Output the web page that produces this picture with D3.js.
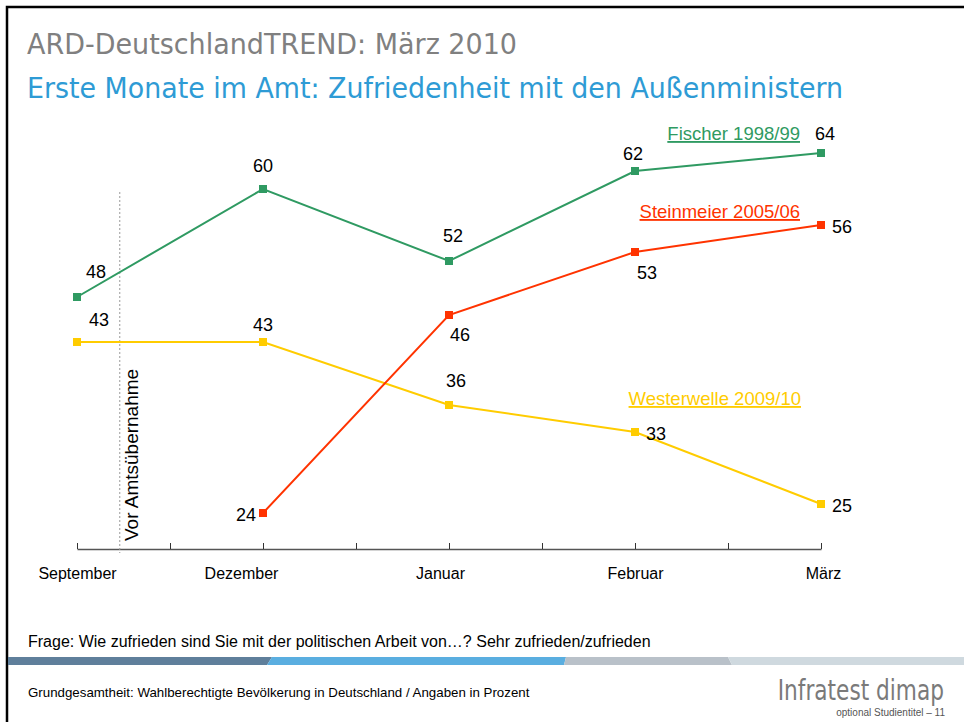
<!DOCTYPE html>
<html>
<head>
<meta charset="utf-8">
<script src="https://cdn.jsdelivr.net/npm/d3@7"></script>
<style>
  body { margin: 0; background: #fff; }
  svg { display: block; font-family: Arial, "Liberation Sans", sans-serif; }
</style>
</head>
<body>
<svg id="chart" width="964" height="722"></svg>
<script>
// --- data ---
const months = ['September', 'Dezember', 'Januar', 'Februar', 'März'];
const fischer = [48, 60, 52, 62, 64];
const steinmeier = [null, 24, 46, 53, 56];
const westerwelle = [43, 43, 36, 33, 25];
const seriesNames = ['Fischer 1998/99', 'Steinmeier 2005/06', 'Westerwelle 2009/10'];
const colors = ['#2f9a62', '#ff3300', '#ffcc00'];

// label offsets (dx, dy, anchor) relative to each point
const labelPos = [
  [[19, -19, 'middle'], [0, -17, 'middle'], [4, -19, 'middle'], [-2, -11, 'middle'], [4, -13, 'middle']],
  [null, [-7, 8, 'end'], [11, 26, 'middle'], [12, 27, 'middle'], [11, 8, 'start']],
  [[22, -16, 'middle'], [0, -11, 'middle'], [7, -18, 'middle'], [11, 8, 'start'], [11, 8, 'start']]
];
// month labels are not quite centred on their ticks in the original
const monthShift = [0, -22, -9, 0, 2];
const legendPos = [[800, 140], [800, 218], [801, 405]];

const svg = d3.select('#chart');

// slide frame
svg.append('path')
  .attr('d', 'M7,722 V7 H964')
  .attr('fill', 'none')
  .attr('stroke', '#000')
  .attr('stroke-width', 2.5);

svg.append('text')
  .attr('x', 27).attr('y', 54)
  .attr('fill', '#808080')
  .style('font-family', '"Liberation Sans Narrow", "DejaVu Sans Condensed", Arial')
  .style('font-size', '28px')
  .attr('textLength', 490).attr('lengthAdjust', 'spacingAndGlyphs')
  .text('ARD-DeutschlandTREND: März 2010');

svg.append('text')
  .attr('x', 27).attr('y', 98)
  .attr('fill', '#2e9bd5')
  .style('font-family', '"Liberation Sans Narrow", "DejaVu Sans Condensed", Arial')
  .style('font-size', '28px')
  .attr('textLength', 816).attr('lengthAdjust', 'spacingAndGlyphs')
  .text('Erste Monate im Amt: Zufriedenheit mit den Außenministern');

// --- chart ---
const x = d3.scaleLinear().domain([0, months.length - 1]).range([77, 821]);
const y = d3.scaleLinear().domain([20, 64]).range([549, 153]);

const axis = d3.axisBottom(x)
  .tickValues(d3.range(0, months.length - 0.99, 0.5))
  .tickSize(-6)
  .tickSizeOuter(0)
  .tickPadding(19)
  .tickFormat(d => (Number.isInteger(d) ? months[d] : ''));

const gx = svg.append('g')
  .attr('transform', `translate(0,${y(20)})`)
  .call(axis);
gx.select('.domain').attr('stroke', '#555').attr('stroke-width', 1.5);
gx.selectAll('.tick line').attr('stroke', '#333');
gx.selectAll('.tick text')
  .attr('fill', '#000')
  .attr('dx', d => (Number.isInteger(d) ? monthShift[d] : 0))
  .style('font-size', '16px')
  .style('font-family', 'Arial, "Liberation Sans", sans-serif');

// "Vor Amtsübernahme" marker
const vorX = x(0.23);
svg.append('line')
  .attr('x1', vorX).attr('x2', vorX)
  .attr('y1', 192).attr('y2', 553)
  .attr('stroke', '#999')
  .attr('stroke-width', 1)
  .attr('stroke-dasharray', '2,2');
svg.append('text')
  .attr('transform', `translate(${vorX + 18},541) rotate(-90)`)
  .style('font-size', '19px')
  .attr('fill', '#000')
  .text('Vor Amtsübernahme');

const allSeries = [fischer, steinmeier, westerwelle];
const line = d3.line()
  .defined(d => d != null)
  .x((d, i) => x(i))
  .y(d => y(d));

// draw yellow first, then red, then green
[2, 1, 0].forEach(s => {
  const vals = allSeries[s];
  const g = svg.append('g');
  g.append('path')
    .datum(vals)
    .attr('fill', 'none')
    .attr('stroke', colors[s])
    .attr('stroke-width', 2)
    .attr('d', line);
  const pts = vals.map((v, i) => ({ v, i })).filter(d => d.v != null);
  g.selectAll('rect')
    .data(pts)
    .join('rect')
    .attr('x', d => x(d.i) - 4)
    .attr('y', d => y(d.v) - 4)
    .attr('width', 8)
    .attr('height', 8)
    .attr('fill', colors[s]);
  g.selectAll('text.val')
    .data(pts)
    .join('text')
    .attr('class', 'val')
    .attr('x', d => x(d.i) + labelPos[s][d.i][0])
    .attr('y', d => y(d.v) + labelPos[s][d.i][1])
    .attr('text-anchor', d => labelPos[s][d.i][2])
    .style('font-size', '18px')
    .attr('fill', '#000')
    .text(d => d.v);
  svg.append('text')
    .attr('x', legendPos[s][0])
    .attr('y', legendPos[s][1])
    .attr('text-anchor', 'end')
    .attr('fill', colors[s])
    .style('font-size', '18.5px')
    .style('text-decoration', 'underline')
    .text(seriesNames[s]);
});

// --- footer ---
svg.append('text')
  .attr('x', 28).attr('y', 647)
  .style('font-size', '16px')
  .attr('fill', '#000')
  .text('Frage: Wie zufrieden sind Sie mit der politischen Arbeit von…? Sehr zufrieden/zufrieden');

const band = [
  { pts: '8,657 272,657 267,665 8,665', c: '#5f7f9b' },
  { pts: '272,657 566,657 564,665 267,665', c: '#5aaee0' },
  { pts: '566,657 728,657 732,665 564,665', c: '#b9c1c9' },
  { pts: '728,657 964,657 964,665 732,665', c: '#cfd9df' }
];
svg.append('g').selectAll('polygon')
  .data(band)
  .join('polygon')
  .attr('points', d => d.pts)
  .attr('fill', d => d.c);

svg.append('text')
  .attr('x', 28).attr('y', 697)
  .style('font-size', '13.3px')
  .attr('fill', '#000')
  .text('Grundgesamtheit: Wahlberechtigte Bevölkerung in Deutschland / Angaben in Prozent');

svg.append('text')
  .attr('transform', 'translate(944,700) scale(0.86,1)')
  .attr('text-anchor', 'end')
  .attr('fill', '#7a7a7a')
  .style('font-family', '"Liberation Sans Narrow", "DejaVu Sans Condensed", Arial')
  .style('font-size', '28px')
  .text('Infratest dimap');

svg.append('text')
  .attr('x', 945).attr('y', 716)
  .attr('text-anchor', 'end')
  .attr('fill', '#555')
  .style('font-size', '10px')
  .text('optional Studientitel – 11');
</script>
</body>
</html>
